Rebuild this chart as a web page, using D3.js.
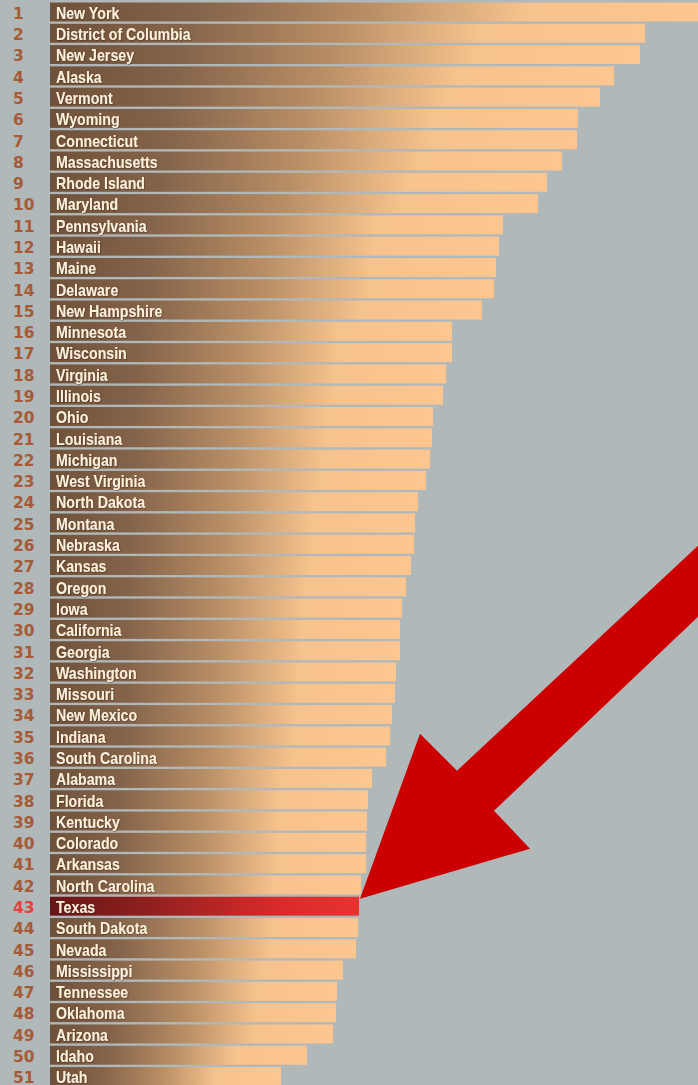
<!DOCTYPE html>
<html>
<head>
<meta charset="utf-8">
<script src="https://cdn.jsdelivr.net/npm/d3@7"></script>
<style>
  html, body { margin: 0; padding: 0; background: #b0b8b9; overflow: hidden; }
  svg { display: block; }
</style>
</head>
<body>
<script>
// Chart size
var width = 698;
var height = 1085;
var barLeft = 50;

// Data, in rank order
var states = ["New York", "District of Columbia", "New Jersey", "Alaska", "Vermont", "Wyoming",
  "Connecticut", "Massachusetts", "Rhode Island", "Maryland", "Pennsylvania", "Hawaii", "Maine",
  "Delaware", "New Hampshire", "Minnesota", "Wisconsin", "Virginia", "Illinois", "Ohio",
  "Louisiana", "Michigan", "West Virginia", "North Dakota", "Montana", "Nebraska", "Kansas",
  "Oregon", "Iowa", "California", "Georgia", "Washington", "Missouri", "New Mexico", "Indiana",
  "South Carolina", "Alabama", "Florida", "Kentucky", "Colorado", "Arkansas", "North Carolina",
  "Texas", "South Dakota", "Nevada", "Mississippi", "Tennessee", "Oklahoma", "Arizona", "Idaho", "Utah"];
var values = [660, 595, 590, 564, 550, 528, 527, 512, 497, 488, 453, 449, 446, 444, 432,
  402, 402, 396, 393, 383, 382, 380, 376, 368, 365, 364, 361, 356, 352, 350, 350, 346, 345,
  342, 340, 336, 322, 318, 317, 316, 316, 311, 309, 308, 306, 293, 287, 286, 283, 257, 231];
var ranks = d3.range(1, states.length + 1);
var highlight = "Texas";

var data = states.map(function (s, i) {
  return { state: s, value: values[i], rank: ranks[i] };
});

var svg = d3.select("body")
    .append("svg")
    .attr("width", width)
    .attr("height", height);

var defs = svg.append("defs");

// brown -> peach gradient for each bar
var grad = defs.append("linearGradient").attr("id", "barGrad");
grad.append("stop").attr("offset", "0%").attr("stop-color", "#6f5139");
grad.append("stop").attr("offset", "22%").attr("stop-color", "#84634a");
grad.append("stop").attr("offset", "48%").attr("stop-color", "#b88e65");
grad.append("stop").attr("offset", "72%").attr("stop-color", "#f6c28d");
grad.append("stop").attr("offset", "100%").attr("stop-color", "#fdc690");

// red gradient for the highlighted bar
var redGrad = defs.append("linearGradient").attr("id", "redGrad");
redGrad.append("stop").attr("offset", "0%").attr("stop-color", "#661717");
redGrad.append("stop").attr("offset", "30%").attr("stop-color", "#8e1f1f");
redGrad.append("stop").attr("offset", "75%").attr("stop-color", "#d92c2a");
redGrad.append("stop").attr("offset", "100%").attr("stop-color", "#e6342f");

var shadow = defs.append("filter").attr("id", "txtShadow")
    .attr("x", "-5%").attr("y", "-20%").attr("width", "110%").attr("height", "140%");
shadow.append("feDropShadow")
    .attr("dx", 0.7).attr("dy", 0.7).attr("stdDeviation", 0.4)
    .attr("flood-color", "#3a2414").attr("flood-opacity", 0.6);

// Scales
var xScale = d3.scaleLinear()
    .domain([0, 650])
    .range([barLeft, barLeft + 650]);

var yScale = d3.scaleBand()
    .domain(states)
    .range([2.5, 1086])
    .paddingInner(0.11)
    .paddingOuter(0);

// Bars
svg.selectAll(".bar")
    .data(data)
    .enter()
    .append("rect")
    .attr("class", "bar")
    .attr("x", xScale(0))
    .attr("y", function (d) { return yScale(d.state); })
    .attr("width", function (d) { return xScale(d.value) - xScale(0); })
    .attr("height", yScale.bandwidth())
    .attr("fill", function (d) { return d.state === highlight ? "url(#redGrad)" : "url(#barGrad)"; });

// State names (condensed bold)
svg.selectAll(".label")
    .data(data)
    .enter()
    .append("text")
    .attr("class", "label")
    .attr("transform", function (d) {
      return "translate(" + (xScale(0) + 6) + "," + (yScale(d.state) + 16.3) + ") scale(0.86,1)";
    })
    .attr("font-family", "'Liberation Sans', Arial, sans-serif")
    .attr("font-weight", "bold")
    .attr("font-size", "16.5px")
    .attr("fill", "#fdf1dc")
    .attr("filter", "url(#txtShadow)")
    .text(function (d) { return d.state; });

// Rank numbers
svg.selectAll(".rank")
    .data(data)
    .enter()
    .append("text")
    .attr("class", "rank")
    .attr("x", 13)
    .attr("y", function (d) { return yScale(d.state) + 16.3; })
    .attr("font-family", "'DejaVu Sans', Verdana, sans-serif")
    .attr("font-weight", "bold")
    .attr("font-size", "15.5px")
    .attr("fill", function (d) { return d.state === highlight ? "#e8403a" : "#a65a36"; })
    .text(function (d) { return d.rank; });

// Big red arrow pointing at the highlighted bar
var hi = data.filter(function (d) { return d.state === highlight; })[0];
var tipX = xScale(hi.value) + 1;
var tipY = yScale(hi.state) + 2;
var arrowPts = [[0, 0], [60, -165], [97, -128], [400, -411], [400, -341], [134, -88], [170, -50]];
svg.append("polygon")
    .attr("points", arrowPts.map(function (p) { return (tipX + p[0]) + "," + (tipY + p[1]); }).join(" "))
    .attr("fill", "#cc0000");
</script>
</body>
</html>
